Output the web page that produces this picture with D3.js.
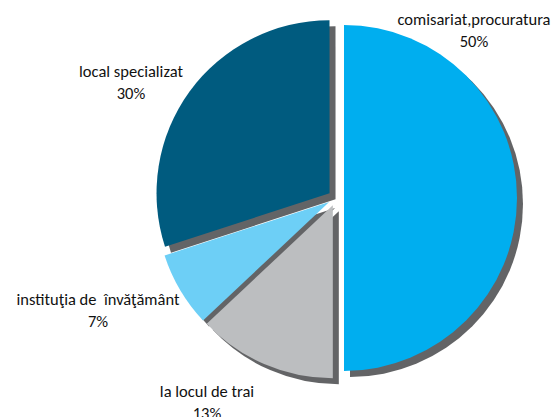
<!DOCTYPE html>
<html>
<head>
<meta charset="utf-8">
<script src="https://cdn.jsdelivr.net/npm/d3@7"></script>
<style>
  body { margin: 0; background: #fff; }
  svg { display: block; }
</style>
</head>
<body>
<div id="chart"></div>
<script>

var categories = ["comisariat,procuratura", "la locul de trai", "instituţia de  învăţământ", "local specializat"]

var values = [50, 13, 7, 30]

var percentLabels = ["50%", "13%", "7%", "30%"]

var colors = ["#00AEEF", "#BCBEC0", "#6DCFF6", "#005B7F"]

// label centres, picked by eye from the original
var labelPos = [[474, 25], [207, 397], [98, 305], [131, 77]]

var width = 556
var height = 417

var cx = 336
var cy = 198
var radius = 173
var explode = 8
var shadow = 6

var svg = d3.select("#chart")
	.append("svg")
	.attr("width", width)
	.attr("height", height)

var pie = d3.pie()
	.sort(null)
	.value(d => d)

var arcs = pie(values)

var arc = d3.arc()
	.innerRadius(0)
	.outerRadius(radius)

function offset(d) {
	var a = (d.startAngle + d.endAngle) / 2
	return [Math.sin(a) * explode, -Math.cos(a) * explode]
}

var g = svg.append("g")
	.attr("transform", "translate(" + cx + "," + cy + ")")

// shadows first, all slices on top
g.append("g")
	.selectAll("path")
	.data(arcs)
	.join("path")
	.attr("transform", d => {
		var o = offset(d)
		return "translate(" + (o[0] + shadow) + "," + (o[1] + shadow) + ")"
	})
	.attr("d", arc)
	.attr("fill", "#636466")

g.append("g")
	.selectAll("path")
	.data(arcs)
	.join("path")
	.attr("transform", d => {
		var o = offset(d)
		return "translate(" + o[0] + "," + o[1] + ")"
	})
	.attr("d", arc)
	.attr("fill", (d, i) => colors[i])

var labels = svg.append("g")
	.attr("font-family", "Carlito, Lato, sans-serif")
	.attr("font-size", 16.5)
	.attr("fill", "#111")
	.attr("text-anchor", "middle")
	.selectAll("text")
	.data(categories)
	.join("text")
	.attr("x", (d, i) => labelPos[i][0])
	.attr("y", (d, i) => labelPos[i][1])

labels.append("tspan")
	.attr("x", (d, i) => labelPos[i][0])
	.style("white-space", "pre")
	.text(d => d)

labels.append("tspan")
	.attr("x", (d, i) => labelPos[i][0])
	.attr("dy", 22)
	.text((d, i) => percentLabels[i])

</script>
</body>
</html>
